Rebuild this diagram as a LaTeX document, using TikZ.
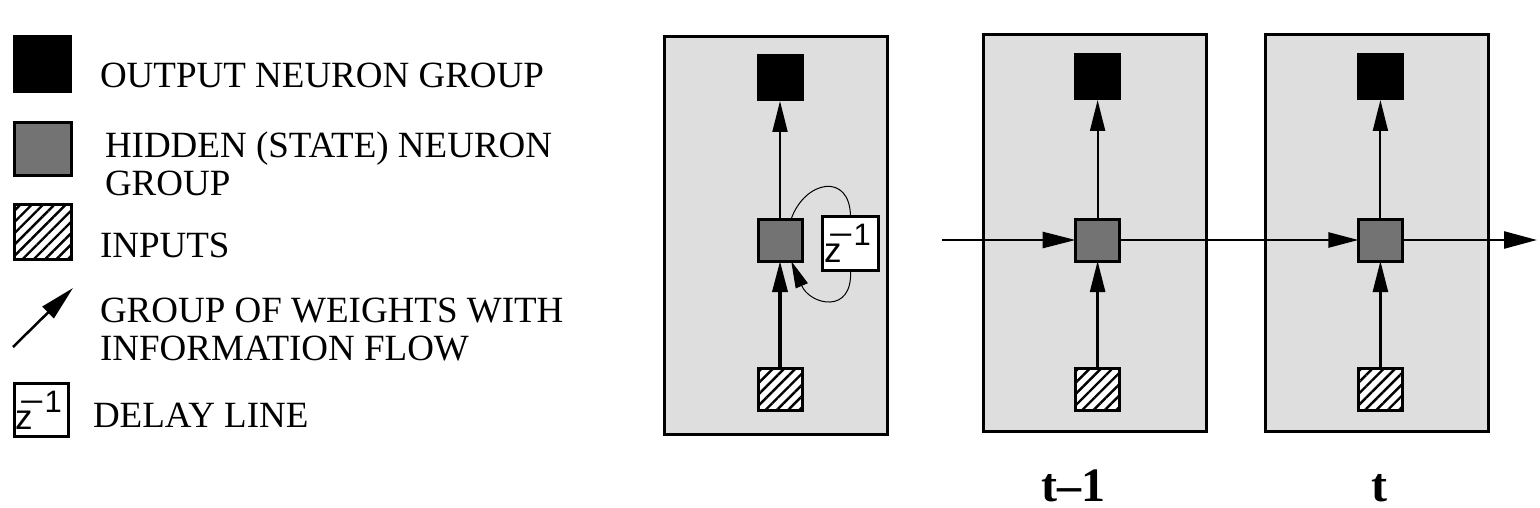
\documentclass[tikz,border=0pt]{standalone}
\usepackage{graphicx}
\usepackage{fontspec}
\setmainfont{Liberation Serif}
\setsansfont{Liberation Sans}
\usetikzlibrary{arrows.meta}
\usetikzlibrary{positioning}
\usetikzlibrary{patterns.meta}
\newcommand{\zinv}{{\sffamily\fontsize{35}{35}\selectfont z\kern-13.5pt\raisebox{17pt}{\fontsize{31}{31}\selectfont\scalebox{1.4}[1]{−}1}\kern6pt}}

\begin{document}
\begin{tikzpicture}[x=1pt,y=-1pt,every node/.style={inner sep=0pt,outer sep=0pt},
  panel/.style={draw,line width=3pt,fill=black!13,minimum width=223pt,minimum height=397pt},
  outgrp/.style={fill=black,minimum width=47pt,minimum height=47pt},
  hidgrp/.style={draw,line width=3pt,fill=black!55,minimum width=44pt,minimum height=42pt},
  ingrp/.style={draw,line width=3pt,preaction={fill=white},pattern={Lines[angle=45,distance=8pt,line width=2.4pt]},minimum width=44pt,minimum height=42pt},
  delaybox/.style={draw,line width=3pt,fill=white,minimum width=54pt,minimum height=53pt},
  legtext/.style={anchor=base west,align=left,font=\fontsize{37}{37.5}\selectfont},
  flow/.style={-{Triangle[length=31pt,width=15pt]},line width=2pt},
  tlabel/.style={anchor=base,font=\fontsize{48}{48}\selectfont\bfseries}]
  \useasboundingbox (0,0) rectangle (1540,508);
  \node[outgrp,minimum width=59pt,minimum height=58pt] (lo) at (42.5,64) {};
  \node[hidgrp,minimum width=57pt,minimum height=53pt] (lh) at (42.5,149.5) {};
  \node[ingrp,minimum width=57pt,minimum height=55pt] (li) at (42.5,232) {};
  \coordinate (la) at (13,347);
  \coordinate (lb) at (73,288);
  \node[delaybox] (ld) at (41.5,410) {\zinv};
  \node[legtext] (t1) at (100,88) {OUTPUT NEURON GROUP};
  \node[legtext] (t2) at (105,195) {HIDDEN (STATE) NEURON\\GROUP};
  \node[legtext] (t3) at (100,257) {INPUTS};
  \node[legtext] (t4) at (100,360) {GROUP OF WEIGHTS WITH\\INFORMATION FLOW};
  \node[legtext] (t5) at (93,427) {DELAY LINE};
  \draw[-{Triangle[length=35pt,width=16pt]},line width=2.5pt] (la) -- (lb);

  \node[panel] (p1) at (776,235.5) {};
  \node[panel] (p2) at (1095,233) {};
  \node[panel] (p3) at (1377,233) {};

  \node[hidgrp] (h1) at (780,240) {};
  \node[outgrp,above=118pt of h1] (o1) {};
  \node[ingrp,below=107.5pt of h1] (i1) {};
  \node[delaybox,minimum width=56pt,minimum height=54pt] (d1) at (850.5,243.5) {\zinv};

  \node[hidgrp] (h2) at (1097.6,240) {};
  \node[outgrp,above=119pt of h2] (o2) {};
  \node[ingrp,below=107.5pt of h2] (i2) {};

  \node[hidgrp] (h3) at (1380.4,240) {};
  \node[outgrp,above=119pt of h3] (o3) {};
  \node[ingrp,below=107.5pt of h3] (i3) {};

  \coordinate (a0) at (942,240);
  \coordinate (a1) at (1537,240);

  \draw[flow] (h1.north) -- (o1.south);
  \draw[flow,line width=3.5pt] (i1.north) -- (h1.south);
  \draw[line width=1pt] (h1.62) .. controls (805,180) and (850,172) .. (d1.north);
  \draw[line width=1pt,-{Triangle[length=27pt,width=13pt]}] (d1.south) .. controls (853,315) and (810,305) .. (h1.-62);

  \draw[flow] (h2.north) -- (o2.south);
  \draw[flow,line width=2.5pt] (i2.north) -- (h2.south);
  \draw[flow] (h3.north) -- (o3.south);
  \draw[flow,line width=2.5pt] (i3.north) -- (h3.south);

  \draw[flow,line width=2.5pt,-{Triangle[length=33pt,width=16pt]}] (a0) -- (h2.west);
  \draw[flow,line width=2.5pt,-{Triangle[length=30pt,width=15pt]}] (h2.east) -- (h3.west);
  \draw[flow,line width=2.5pt,-{Triangle[length=33pt,width=17pt]}] (h3.east) -- (a1);

  \node[tlabel] (l1) at (1073,501) {t--1};
  \node[tlabel] (l2) at (1379,501) {t};
\end{tikzpicture}
\end{document}
